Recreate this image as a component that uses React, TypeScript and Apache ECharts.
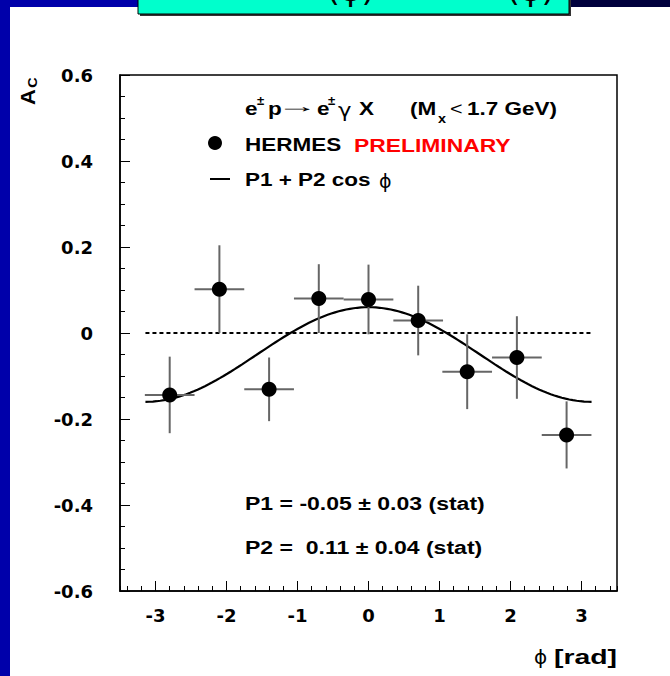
import React, { useEffect, useRef } from "react";
import * as echarts from "echarts";

// ---- data ----
const PHI = [-2.8, -2.1, -1.4, -0.7, 0.0, 0.7, 1.39, 2.09, 2.79];
const AC = [-0.144, 0.102, -0.131, 0.08, 0.078, 0.029, -0.09, -0.057, -0.237];
const AC_ERR = [0.089, 0.102, 0.074, 0.08, 0.081, 0.081, 0.087, 0.096, 0.078];
const PHI_HALF_BIN = 0.35;
// fit parameters shown on the chart: A_C = P1 + P2 cos(phi)
const P1 = -0.05;
const P2 = 0.11;
const FIT_RANGE = [-Math.PI, Math.PI];
const ZERO_LINE_X = [-Math.PI, Math.PI];
const X_RANGE = [-3.5, 3.5];
const Y_RANGE = [-0.6, 0.6];
const Y_STEP = 0.2;

const FONT = '"Liberation Sans", Arial, Helvetica, sans-serif';
const SYM_FONT = '"DejaVu Sans", sans-serif';
const TICK_FONT = '"DejaVu Sans", sans-serif';

function txt(x: number, y: number, text: string, o: any = {}) {
  return {
    type: "text",
    x,
    y,
    scaleX: o.sx ?? 1.25,
    rotation: o.rot ?? 0,
    z: 20,
    style: {
      text,
      fill: o.color ?? "#000",
      fontSize: o.size ?? 18,
      fontWeight: o.weight ?? "bold",
      fontFamily: o.family ?? FONT,
      align: o.align ?? "left",
      verticalAlign: o.va ?? "middle",
    },
  };
}

export default function App() {
  const ref = useRef<HTMLDivElement>(null);

  useEffect(() => {
    if (!ref.current) return;
    const chart = echarts.init(ref.current, undefined, { renderer: "svg" });

    const fitData: number[][] = [];
    const N = 120;
    for (let i = 0; i <= N; i++) {
      const p = FIT_RANGE[0] + ((FIT_RANGE[1] - FIT_RANGE[0]) * i) / N;
      fitData.push([p, P1 + P2 * Math.cos(p)]);
    }

    const graphic: any[] = [
      // slide decoration
      { type: "rect", z: 1, shape: { x: 0, y: 0, width: 10, height: 676 }, style: { fill: "#0000AA" } },
      { type: "rect", z: 1, shape: { x: 0, y: 0, width: 330, height: 7 }, style: { fill: "#0000AA" } },
      { type: "rect", z: 1, shape: { x: 330, y: 0, width: 340, height: 7 }, style: { fill: "#00003C" } },
      { type: "rect", z: 2, shape: { x: 140, y: -5, width: 431, height: 21 }, style: { fill: "#333" } },
      { type: "rect", z: 3, shape: { x: 138, y: -5, width: 431, height: 19 }, style: { fill: "#00FFCC", stroke: "#000", lineWidth: 1 } },
      txt(327, 6, "(ϕ)", { weight: "normal", size: 30, sx: 1.1, va: "bottom", family: SYM_FONT }),
      txt(507, 6, "(ϕ)", { weight: "normal", size: 30, sx: 1.1, va: "bottom", family: SYM_FONT }),

      // y axis title A_C
      txt(27.5, 97, "A", { rot: Math.PI / 2, size: 20, sx: 1.1, align: "center" }),
      txt(33, 82.5, "C", { rot: Math.PI / 2, size: 13, sx: 1.1, align: "center" }),

      // x axis title
      txt(534, 657, "ϕ", { weight: "normal", size: 20, sx: 1.0, family: SYM_FONT }),
      txt(617, 656, "[rad]", { size: 21, sx: 1.35, align: "right" }),

      // line 1: e± p → e±γ X   (Mx< 1.7 GeV)
      txt(245, 109, "e"),
      txt(257, 101, "±", { size: 12, sx: 1.1 }),
      txt(268, 109, "p"),
      txt(277, 106, "→", { weight: "normal", sx: 2.3 }),
      txt(317, 109, "e"),
      txt(328, 101, "±", { size: 12, sx: 1.1 }),
      txt(338, 111, "γ", { weight: "normal", size: 19, sx: 1.2, family: SYM_FONT }),
      txt(359, 109, "X"),
      txt(410, 109, "(M"),
      txt(438, 119, "x", { size: 12, sx: 1.2 }),
      txt(450, 109, "<", { weight: "normal", sx: 1.2 }),
      txt(467, 109, "1.7 GeV)"),

      // line 2: marker + HERMES PRELIMINARY
      { type: "circle", z: 20, shape: { cx: 215, cy: 143, r: 7 }, style: { fill: "#000" } },
      txt(245, 145, "HERMES"),
      txt(354, 145, "PRELIMINARY", { color: "#FF0000", sx: 1.27 }),

      // line 3: line + P1 + P2 cos ϕ
      { type: "line", z: 20, shape: { x1: 210, y1: 179, x2: 230, y2: 179 }, style: { stroke: "#000", lineWidth: 2 } },
      txt(245, 180, "P1 + P2 cos"),
      txt(379, 181, "ϕ", { weight: "normal", size: 19, sx: 1.0, family: SYM_FONT }),

      // fit results
      txt(245, 503, "P1 = -0.05 ± 0.03 (stat)", { sx: 1.28 }),
      txt(245, 547, "P2 =  0.11 ± 0.04 (stat)", { sx: 1.28 }),
    ];

    const option: any = {
      animation: false,
      backgroundColor: "#fff",
      grid: {
        left: 120,
        right: 53,
        top: 75,
        bottom: 85,
        show: true,
        borderColor: "#000",
        borderWidth: 1.5,
        backgroundColor: "transparent",
        containLabel: false,
        outerBoundsMode: "none",
      },
      xAxis: [
        {
          type: "value",
          position: "bottom",
          min: X_RANGE[0],
          max: X_RANGE[1],
          splitNumber: 7,
          axisLine: { show: true, onZero: false, lineStyle: { color: "#000", width: 1.5 } },
          axisTick: { show: true, inside: true, length: 10, lineStyle: { color: "#000", width: 1 } },
          splitLine: { show: false },
          axisLabel: {
            show: true,
            showMinLabel: false,
            showMaxLabel: false,
            margin: 15,
            color: "#000",
            fontSize: 18,
            fontWeight: "bold",
            fontFamily: TICK_FONT,
          },
        },
        {
          type: "value",
          position: "bottom",
          min: X_RANGE[0],
          max: X_RANGE[1],
          splitNumber: 35,
          axisLine: { show: false, onZero: false },
          axisTick: { show: true, inside: true, length: 5, lineStyle: { color: "#000", width: 1 } },
          splitLine: { show: false },
          axisLabel: { show: false },
        },
      ],
      yAxis: {
        type: "value",
        position: "left",
        min: Y_RANGE[0],
        max: Y_RANGE[1],
        interval: Y_STEP,
        axisLine: { show: true, onZero: false, lineStyle: { color: "#000", width: 1.5 } },
        axisTick: { show: true, inside: true, length: 10, lineStyle: { color: "#000", width: 1 } },
        minorTick: { show: true, splitNumber: 4, length: 5, lineStyle: { color: "#000", width: 1 } },
        splitLine: { show: false },
        minorSplitLine: { show: false },
        axisLabel: {
          margin: 27,
          color: "#000",
          fontSize: 18,
          fontWeight: "bold",
          fontFamily: TICK_FONT,
        },
      },
      graphic,
      series: [
        {
          name: "zero",
          type: "line",
          xAxisIndex: 0,
          data: ZERO_LINE_X.map((x) => [x, 0]),
          showSymbol: false,
          symbol: "none",
          lineStyle: { color: "#000", width: 2, type: [4, 3] },
          z: 3,
          silent: true,
        },
        {
          name: "P1 + P2 cos ϕ",
          type: "line",
          xAxisIndex: 0,
          data: fitData,
          showSymbol: false,
          symbol: "none",
          lineStyle: { color: "#000", width: 2.2 },
          z: 4,
          silent: true,
        },
        {
          name: "errors",
          type: "custom",
          xAxisIndex: 0,
          data: PHI.map((p, i) => [p, AC[i], PHI_HALF_BIN, AC_ERR[i]]),
          encode: { x: 0, y: 1 },
          z: 5,
          renderItem: (params: any, api: any) => {
            const x = api.value(0);
            const y = api.value(1);
            const dx = api.value(2);
            const dy = api.value(3);
            const l = api.coord([x - dx, y]);
            const r = api.coord([x + dx, y]);
            const t = api.coord([x, y + dy]);
            const b = api.coord([x, y - dy]);
            const style = { stroke: "#666", lineWidth: 2 };
            return {
              type: "group",
              children: [
                { type: "line", shape: { x1: l[0], y1: l[1], x2: r[0], y2: r[1] }, style },
                { type: "line", shape: { x1: t[0], y1: t[1], x2: b[0], y2: b[1] }, style },
              ],
            };
          },
        },
        {
          name: "HERMES",
          type: "scatter",
          xAxisIndex: 0,
          data: PHI.map((p, i) => [p, AC[i]]),
          symbol: "circle",
          symbolSize: 15,
          itemStyle: { color: "#000", opacity: 1 },
          z: 6,
        },
      ],
    };

    chart.setOption(option);
    return () => chart.dispose();
  }, []);

  return (
    <div
      ref={ref}
      style={{ position: "absolute", left: 0, top: 0, width: 670, height: 676, background: "#fff" }}
    />
  );
}
